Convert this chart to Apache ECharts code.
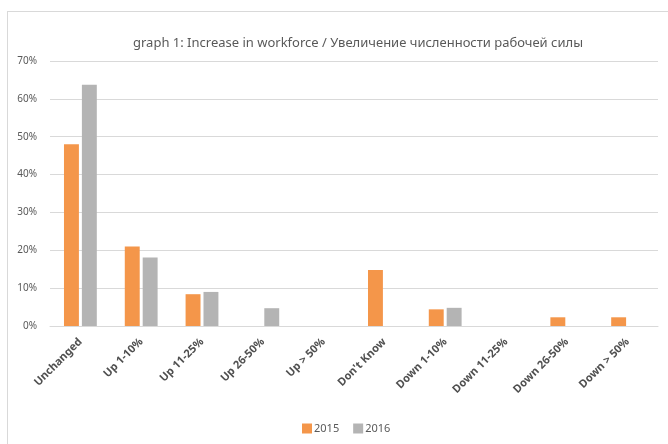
<!DOCTYPE html>
<html>
<head>
<meta charset="utf-8">
<script src="https://cdn.jsdelivr.net/npm/echarts@6/dist/echarts.min.js"></script>
<style>
  html, body { margin: 0; padding: 0; background: #fff; }
  #frame { position: absolute; left: 7px; top: 11px; width: 700px; height: 460px; border-left: 1px solid #d9d9d9; border-top: 1px solid #d9d9d9; }
  #chart { position: absolute; left: 0; top: 0; width: 668px; height: 444px; }
</style>
</head>
<body>
<div id="frame"></div>
<div id="chart"></div>
<script>
const titleText = 'graph 1: Increase in workforce / Увеличение численности рабочей силы';
const categories = ['Unchanged', 'Up 1-10%', 'Up 11-25%', 'Up 26-50%', 'Up > 50%', "Don't Know", 'Down 1-10%', 'Down 11-25%', 'Down 26-50%', 'Down > 50%'];
const values2015 = [48.0, 21.0, 8.4, 0, 0, 14.8, 4.4, 0, 2.3, 2.3];
const values2016 = [63.7, 18.1, 9.0, 4.7, 0, 0, 4.8, 0, 0, 0];
const seriesNames = ['2015', '2016'];
const colors = ['#F4964A', '#B4B4B4'];

const chart = echarts.init(document.getElementById('chart'), null, { renderer: 'canvas' });
const font = 'Noto Sans';
chart.setOption({
  backgroundColor: 'transparent',
  animation: false,
  title: {
    text: titleText,
    left: 128,
    top: 32,
    textStyle: { fontFamily: font, fontSize: 13, fontWeight: 'normal', color: '#595959' }
  },
  legend: {
    data: seriesNames,
    bottom: 5,
    left: 297,
    itemWidth: 10,
    itemHeight: 10,
    itemGap: 14,
    icon: 'rect',
    textStyle: { fontFamily: font, fontSize: 11, color: '#595959', padding: [0, 0, 0, -3] }
  },
  grid: { left: 50, right: 10, top: 61, bottom: 118, containLabel: false },
  xAxis: {
    type: 'category',
    data: categories,
    axisLine: { lineStyle: { color: '#d9d9d9', width: 1 } },
    axisTick: { show: false },
    axisLabel: {
      interval: 0,
      rotate: 45,
      margin: 14,
      fontFamily: font,
      fontSize: 11,
      fontWeight: 'bold',
      color: '#505050'
    }
  },
  yAxis: {
    type: 'value',
    min: 0,
    max: 70,
    interval: 10,
    axisLine: { show: false },
    axisTick: { show: false },
    splitLine: { lineStyle: { color: '#d9d9d9', width: 1 } },
    axisLabel: {
      formatter: '{value}%',
      margin: 13,
      fontFamily: font,
      fontSize: 10,
      color: '#595959'
    }
  },
  series: [
    {
      name: seriesNames[0],
      type: 'bar',
      data: values2015,
      itemStyle: { color: colors[0] },
      barGap: '20%',
      barCategoryGap: '46%'
    },
    {
      name: seriesNames[1],
      type: 'bar',
      data: values2016,
      itemStyle: { color: colors[1] },
      barGap: '20%',
      barCategoryGap: '46%'
    }
  ]
});
</script>
</body>
</html>
